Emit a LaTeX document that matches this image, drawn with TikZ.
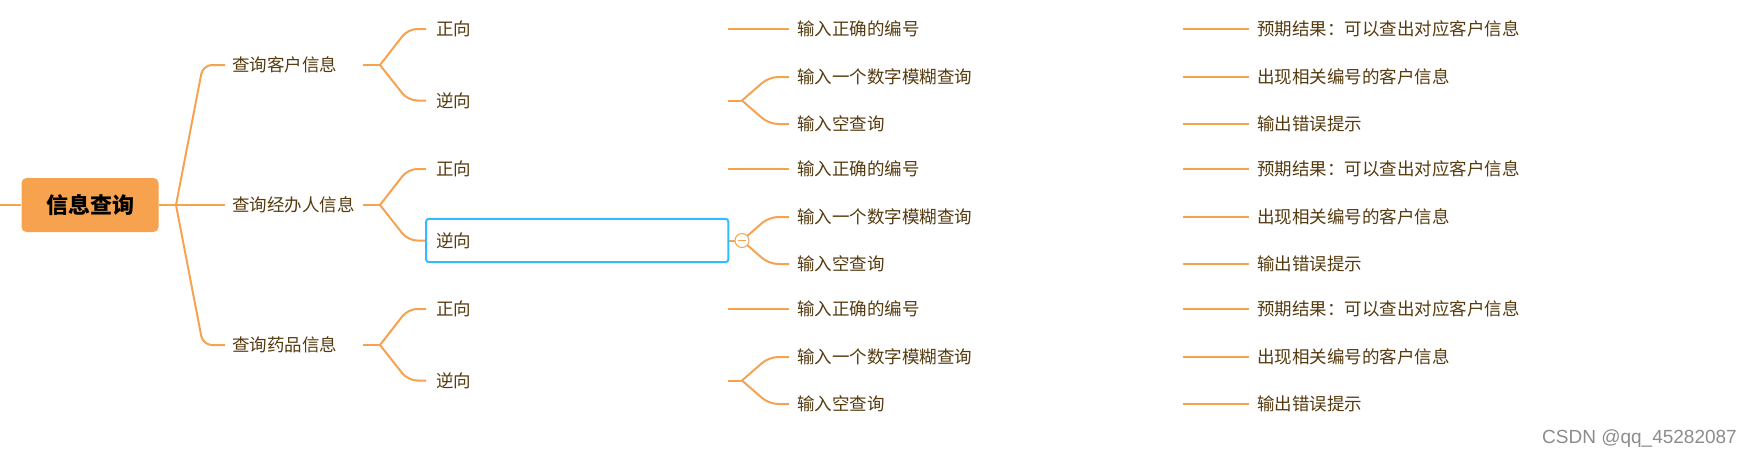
\documentclass[tikz,border=0pt]{standalone}
\usepackage{fontspec}
\newfontfamily\cjk{Noto Sans CJK SC}
\setsansfont{Liberation Sans}
\usetikzlibrary{positioning,calc}
\definecolor{corange}{HTML}{F7A24F}
\definecolor{cblue}{HTML}{33BBFF}
\definecolor{ctext}{HTML}{553A0E}

\begin{document}
\begin{tikzpicture}[x=1pt, y=-1pt,
      edge/.style={draw=corange, line width=2pt, rounded corners=9pt},
      topic/.style={anchor=west, text=ctext, font=\cjk\fontsize{17.5}{20}\selectfont, inner sep=0pt, inner xsep=7pt},
      main/.style={topic, text width=124pt, align=left},
      sub/.style={topic, inner xsep=10pt, text width=282pt, minimum height=43pt, align=left},
      leaf/.style={topic, inner xsep=8pt, text width=378pt, align=left},
      result/.style={topic, inner xsep=8pt},
      rootbox/.style={fill=corange, rounded corners=5pt, minimum width=137pt, minimum height=54pt, font=\cjk\bfseries\fontsize{22}{26}\selectfont},
      fold/.style={circle, draw=corange, line width=1pt, fill=white, minimum size=14pt, inner sep=0pt},
      wmark/.style={anchor=east, text=black!45, font=\sffamily\fontsize{19}{22}\selectfont, inner sep=0pt}
    ]
    \useasboundingbox (0,0) rectangle (1750,459);

    % root
    \coordinate (in) at (0,205);
    \node[rootbox] (root) at (90,205) {信息查询};
    \coordinate (b0) at (176,205);
    \draw[edge] (in) -- (root);
    \draw[edge] (root) -- (b0);

    % three query groups
    \foreach \g/\name in {1/查询客户信息, 2/查询经办人信息, 3/查询药品信息} {
      \pgfmathsetmacro{\yy}{65+140*(\g-1)}
      \node[main] (top\g) at (225,\yy) {\name};
      \coordinate (tb\g) at (380,\yy);
      \node[sub] (pos\g) at (426,\yy-36) {正向};
      \node[sub] (neg\g) at (426,\yy+35.5) {逆向};
      \coordinate (nb\g) at (742,\yy+35.5);
      \node[leaf] (pin\g) at (789,\yy-36) {输入正确的编号};
      \node[leaf] (fin\g) at (789,\yy+12) {输入一个数字模糊查询};
      \node[leaf] (ein\g) at (789,\yy+59) {输入空查询};
      \node[result] (pout\g) at (1249,\yy-36) {预期结果：可以查出对应客户信息};
      \node[result] (fout\g) at (1249,\yy+12) {出现相关编号的客户信息};
      \node[result] (eout\g) at (1249,\yy+59) {输出错误提示};

      \draw[edge] (b0) -- ([xshift=-22pt]top\g.west) -- (top\g.west);
      \draw[edge] (top\g.east) -- (tb\g);
      \draw[edge] (tb\g) -- ([xshift=-18pt]pos\g.west) -- (pos\g.west);
      \draw[edge] (tb\g) -- ([xshift=-18pt]neg\g.west) -- (neg\g.west);
      \draw[edge] (pos\g.east) -- (pin\g.west);
      \draw[edge] (neg\g.east) -- (nb\g);
      \draw[edge] (nb\g) -- ([xshift=-20pt]fin\g.west) -- (fin\g.west);
      \draw[edge] (nb\g) -- ([xshift=-20pt]ein\g.west) -- (ein\g.west);
      \draw[edge] (pin\g.east) -- (pout\g.west);
      \draw[edge] (fin\g.east) -- (fout\g.west);
      \draw[edge] (ein\g.east) -- (eout\g.west);
    }

    % selected topic
    \draw[cblue, line width=2pt, rounded corners=3pt] (neg2.north west) rectangle (neg2.south east);
    \node[fold] (fold) at (nb2) {};
    \draw[corange, line width=1pt] ([xshift=-4pt]fold.center) -- ([xshift=4pt]fold.center);

    \node[wmark] (csdn) at (1737,439) {CSDN @qq\_45282087};
  \end{tikzpicture}
\end{document}
